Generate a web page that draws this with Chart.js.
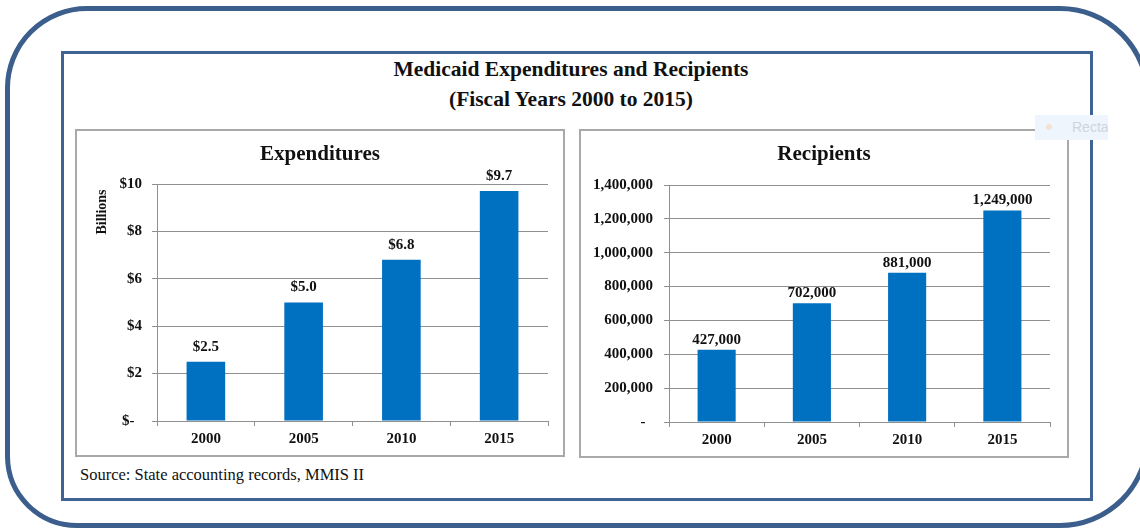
<!DOCTYPE html>
<html>
<head>
<meta charset="utf-8">
<script src="https://cdn.jsdelivr.net/npm/chart.js@4.4.1/dist/chart.umd.min.js"></script>
<style>
  html, body { margin:0; padding:0; background:#fff; }
  body { width:1140px; height:529px; position:relative; overflow:hidden; font-family:"Liberation Serif", "Times New Roman", serif; }
  .outer { position:absolute; left:5px; top:6px; width:1145px; height:522px; box-sizing:border-box;
           border:5px solid #3b5e8c; border-radius:82px 90px 90px 72px; }
  .frame { position:absolute; left:61px; top:51px; width:1032px; height:450px; box-sizing:border-box;
           border:3px solid #3f6393; }
  .title { position:absolute; left:371px; width:400px; top:54px; text-align:center; font-weight:bold;
           font-size:21.5px; line-height:30px; color:#111; }
  .box { position:absolute; box-sizing:border-box; border:2px solid #a9a9a9; pointer-events:none; }
  canvas { position:absolute; }
  .billions { position:absolute; left:102px; top:212px; transform:translate(-50%,-50%) rotate(-90deg);
              font-weight:bold; font-size:14px; color:#111; white-space:nowrap; }
  .source { position:absolute; left:80px; top:465px; font-size:16.5px; line-height:20px; color:#111; }
  .ghost { position:absolute; left:1035px; top:115px; width:73px; height:25px; background:#eef5fd; overflow:hidden; }
  .ghost span { position:absolute; left:37px; top:4px; font-family:"Liberation Sans", sans-serif; font-size:14px; color:#cdd6e0; }
  .ghost i { position:absolute; left:11px; top:9px; width:6px; height:6px; border-radius:3px; background:#f1e2d2; }
</style>
</head>
<body>
<div class="outer"></div>
<div class="frame"></div>
<div class="title">Medicaid Expenditures and Recipients<br>(Fiscal Years 2000 to 2015)</div>

<canvas id="expChart" width="490" height="328" style="left:75px;top:129px"></canvas>
<canvas id="recChart" width="490" height="328" style="left:579px;top:129px"></canvas>
<div class="box" style="left:75px;top:129px;width:490px;height:328px"></div>
<div class="box" style="left:579px;top:129px;width:490px;height:329px"></div>
<div class="billions">Billions</div>
<div class="source">Source: State accounting records, MMIS II</div>
<div class="ghost"><i></i><span>Rectangle</span></div>

<script>
// Datos
const years = ['2000', '2005', '2010', '2015'];
const expenditures = [2.5, 5.0, 6.8, 9.7];          // miles de millones $
const recipients = [427000, 702000, 881000, 1249000];
const expTicks = [0, 2, 4, 6, 8, 10];
const recTicks = [0, 200000, 400000, 600000, 800000, 1000000, 1200000, 1400000];

const SERIF = '"Liberation Serif", "Times New Roman", serif';
const BAR = '#0070c0';
const GRID = '#909090';

// etiquetas encima de cada barra + título centrado en todo el lienzo
const valueLabels = {
  id: 'valueLabels',
  afterDatasetsDraw(chart, args, opts){
    const ctx = chart.ctx;
    const meta = chart.getDatasetMeta(0);
    ctx.save();
    ctx.fillStyle = '#111';
    ctx.textAlign = 'center';
    ctx.textBaseline = 'middle';
    ctx.font = 'bold 21px ' + SERIF;
    ctx.fillText(opts.title, chart.width / 2, 26);
    ctx.font = 'bold 15px ' + SERIF;
    meta.data.forEach((bar, i) => {
      ctx.fillText(opts.format(chart.data.datasets[0].data[i]), bar.x, bar.y - opts.offset);
    });
    ctx.restore();
  }
};

function makeChart(id, o){
  return new Chart(document.getElementById(id), {
    type: 'bar',
    data: {
      labels: years,
      datasets: [{ data: o.values, backgroundColor: BAR, borderWidth: 0,
                   barPercentage: o.barPct, categoryPercentage: 1 }]
    },
    options: {
      responsive: false,
      animation: false,
      events: [],
      layout: { padding: { left: 0, right: o.padRight, top: o.padTop, bottom: 0 } },
      plugins: {
        legend: { display: false },
        tooltip: { enabled: false },
        title: { display: false },
        valueLabels: { title: o.title, format: o.labelFmt, offset: o.labelOffset }
      },
      scales: {
        x: {
          grid: { drawOnChartArea: false, drawTicks: true, tickLength: 5, color: GRID, offset: true },
          border: { color: GRID },
          ticks: { color: '#111', padding: 4, font: { family: SERIF, size: 15, weight: 'bold' } },
          afterFit: s => { s.height = o.xHeight; }
        },
        y: {
          min: 0, max: o.max,
          afterBuildTicks: s => { s.ticks = o.ticks.map(v => ({ value: v })); },
          grid: { color: GRID, tickLength: 5 },
          border: { color: GRID },
          ticks: { color: '#111', padding: o.yPad, callback: o.tickFmt,
                   font: { family: SERIF, size: 15, weight: 'bold' } },
          afterFit: s => { s.width = o.yWidth; }
        }
      }
    },
    plugins: [valueLabels]
  });
}

makeChart('expChart', {
  title: 'Expenditures', values: expenditures, ticks: expTicks, max: 10,
  barPct: 0.395, padRight: 17, padTop: 55, xHeight: 36, yWidth: 82, yPad: 10,
  labelOffset: 15,
  tickFmt: v => v === 0 ? '$-\u00a0\u00a0' : '$' + v,
  labelFmt: v => '$' + v.toFixed(1)
});

makeChart('recChart', {
  title: 'Recipients', values: recipients, ticks: recTicks, max: 1400000,
  barPct: 0.4, padRight: 19, padTop: 56, xHeight: 35, yWidth: 90, yPad: 11,
  labelOffset: 10,
  tickFmt: v => v === 0 ? '-\u00a0\u00a0' : v.toLocaleString('en-US'),
  labelFmt: v => v.toLocaleString('en-US')
});
</script>
</body>
</html>
